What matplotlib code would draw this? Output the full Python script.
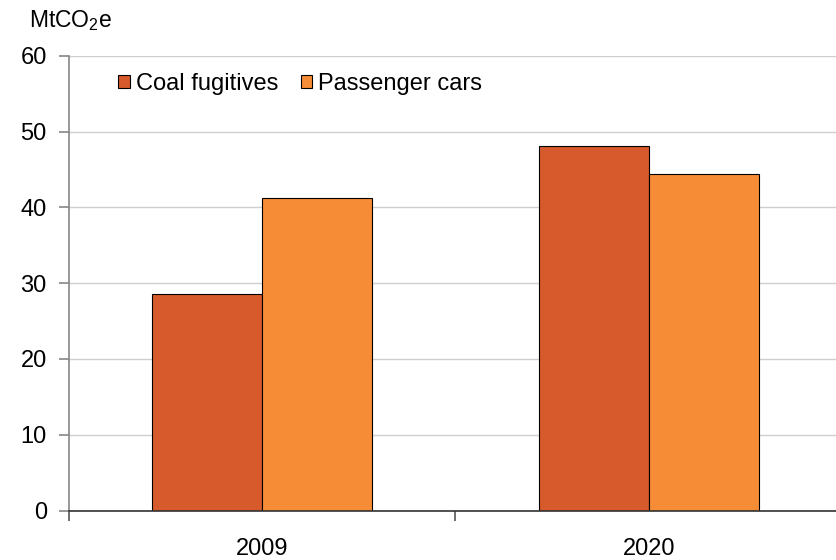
import matplotlib
matplotlib.use('Agg')
import matplotlib.pyplot as plt
import numpy as np

plt.rcParams['font.family'] = ['Liberation Sans', 'DejaVu Sans']
plt.rcParams['mathtext.fontset'] = 'custom'
plt.rcParams['mathtext.rm'] = 'Liberation Sans'
plt.rcParams['mathtext.it'] = 'Liberation Sans:italic'

# data
years = ['2009', '2020']
coal_fugitives = [28.6, 48.1]
passenger_cars = [41.2, 44.4]
series_names = ['Coal fugitives', 'Passenger cars']
y_ticks = [0, 10, 20, 30, 40, 50, 60]

COAL = '#D65A2B'
CARS = '#F68C35'

W, H = 837, 560
fig = plt.figure(figsize=(W / 100, H / 100), dpi=100)
ax = fig.add_axes([69 / W, 1 - 510.5 / H, (842 - 69) / W, (510.5 - 55.7) / H])

x = np.arange(len(years))
bw = 0.285
ax.bar(x - bw / 2, coal_fugitives, bw, color=COAL, edgecolor='black',
       linewidth=0.8, zorder=3, label=series_names[0])
ax.bar(x + bw / 2, passenger_cars, bw, color=CARS, edgecolor='black',
       linewidth=0.8, zorder=3, label=series_names[1])

ax.set_xlim(-0.5, len(years) - 0.5)
ax.set_ylim(0, 60)
ax.set_yticks(y_ticks)
ax.grid(axis='y', color='#cfcfcf', linewidth=1.0, zorder=0)
ax.set_axisbelow(True)

for s in ['top', 'right']:
    ax.spines[s].set_visible(False)
ax.spines['left'].set_color('#868686')
ax.spines['left'].set_linewidth(1.2)
ax.spines['bottom'].set_color('#333333')
ax.spines['bottom'].set_linewidth(1.2)
ax.spines['bottom'].set_zorder(4)

ax.set_xticks(x)
ax.set_xticklabels(years)
ax.set_xticks(np.arange(len(years) + 1) - 0.5, minor=True)
ax.tick_params(axis='x', which='major', length=0, pad=20, labelsize=17)
ax.tick_params(axis='x', which='minor', length=7, width=1.2, color='#555555')
ax.tick_params(axis='y', length=7, width=1.2, color='#868686', pad=9, labelsize=17)

fig.text(29 / W, 1 - 21 / H, r'MtCO$_\mathrm{2}$e', fontsize=16.5,
         ha='left', va='center')

leg = ax.legend(loc='center left', bbox_to_anchor=(118 / W, 1 - 84 / H),
                bbox_transform=fig.transFigure, ncol=2, frameon=False,
                fontsize=17, borderpad=0, borderaxespad=0,
                handlelength=0.5, handleheight=0.5, handletextpad=0.25,
                columnspacing=0.95)

fig.savefig('out.png', dpi=100)
